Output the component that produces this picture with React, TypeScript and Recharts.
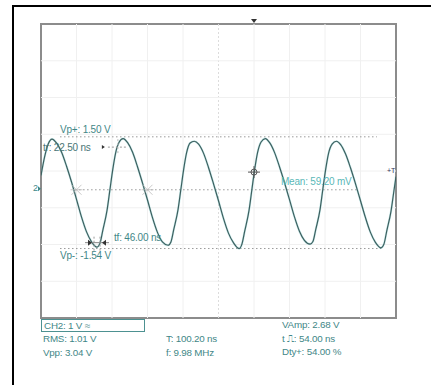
import React from "react";
import { LineChart, Line, XAxis, YAxis, ReferenceLine, ReferenceDot, ReferenceArea } from "recharts";

// CH2 trace: time in ns, level in volts
const TIME_NS = [
  0, 5, 10, 15.5, 22, 29, 36, 43, 50, 57, 64, 71, 79, 83, 87, 93, 97, 101, 105, 110,
  115.6, 122, 129, 136, 143, 150, 157, 164, 171, 179, 183, 187, 193, 197, 201, 205, 210,
  215.8, 222, 229, 236, 243, 250, 257, 264, 271, 279, 283, 287, 293, 297, 301, 305, 310,
  316, 322, 329, 336, 343, 350, 357, 364, 371, 379, 383, 387, 393, 397, 401, 405, 410,
  416, 422, 429, 436, 443, 450, 457, 464, 471, 479, 483, 487, 493, 497, 500,
];
const CH2_V = [
  0.45, 0.95, 1.3, 1.44, 1.33, 1.08, 0.7, 0.27, -0.2, -0.68, -1.08, -1.35, -1.5, -1.4, -1.05, -0.5, 0.05, 0.6, 1.05, 1.35,
  1.45, 1.34, 1.08, 0.68, 0.24, -0.22, -0.7, -1.1, -1.36, -1.45, -1.36, -1.02, -0.48, 0.07, 0.62, 1.06, 1.33,
  1.38, 1.3, 1.05, 0.66, 0.22, -0.24, -0.72, -1.12, -1.38, -1.54, -1.42, -1.06, -0.5, 0.06, 0.62, 1.07, 1.36,
  1.45, 1.34, 1.07, 0.68, 0.25, -0.21, -0.68, -1.07, -1.32, -1.42, -1.35, -1.02, -0.48, 0.08, 0.62, 1.05, 1.3,
  1.38, 1.29, 1.03, 0.65, 0.22, -0.24, -0.7, -1.1, -1.37, -1.52, -1.42, -1.06, -0.52, 0.02, 0.42,
];

const GRID_T = [50, 100, 150, 200, 300, 350, 400, 450];
const GRID_V = [3.57, 2.57, 1.57, 0.57, -0.43, -1.43, -2.43];
const T_DOMAIN = [0, 500];
const V_DOMAIN = [-3.43, 4.57];

const VP_PLUS = 1.5;
const VP_MINUS = -1.54;
const MEAN_V = 0.0592;

const COL1 = ["RMS: 1.01 V", "Vpp: 3.04 V"];
const COL2 = ["T: 100.20 ns", "f: 9.98 MHz"];
const COL3 = ["VAmp: 2.68 V", "t \u238D: 54.00 ns", "Dty+: 54.00 %"];

const TEAL = "#3f8787";
const FONT = "'Liberation Sans', Arial, sans-serif";

const data = TIME_NS.map((t, i) => ({ t, v: CH2_V[i] }));

function note(text: string, color: string) {
  return (p: any) => (
    <text x={p.cx} y={p.cy} dy="0.35em" fill={color} fontSize={10} fontFamily={FONT} letterSpacing={-0.2}>
      {text}
    </text>
  );
}

function Trigger(p: any) {
  const { cx, cy } = p;
  return <path d={`M${cx - 3},${cy - 5} L${cx + 3},${cy - 5} L${cx},${cy - 1} Z`} fill="#333" />;
}

function GroundMark(p: any) {
  const { cx, cy } = p;
  return (
    <g>
      <text x={cx - 8} y={cy} dy="0.35em" fill={TEAL} fontSize={9} fontFamily={FONT}>2</text>
      <path d={`M${cx - 3},${cy - 2} L${cx},${cy + 0.5} L${cx - 3},${cy + 3} Z`} fill={TEAL} />
    </g>
  );
}

function TrigLevel(p: any) {
  const { cx, cy } = p;
  return (
    <g>
      <text x={cx - 9} y={cy} dy="0.35em" fill="#335" fontSize={7} fontFamily={FONT}>+T</text>
    </g>
  );
}

function Cross(p: any) {
  const { cx, cy } = p;
  return (
    <g stroke="#555" strokeWidth={1} fill="none">
      <circle cx={cx} cy={cy} r={3} />
      <line x1={cx - 6} y1={cy} x2={cx + 6} y2={cy} />
      <line x1={cx} y1={cy - 6} x2={cx} y2={cy + 6} />
    </g>
  );
}

function Burst(p: any) {
  const { cx, cy } = p;
  return (
    <g stroke="#bbb" strokeWidth={0.8}>
      <line x1={cx - 5} y1={cy - 5} x2={cx + 5} y2={cy + 5} />
      <line x1={cx - 5} y1={cy + 5} x2={cx + 5} y2={cy - 5} />
      <line x1={cx - 6} y1={cy} x2={cx + 6} y2={cy} />
    </g>
  );
}

function RiseMark(p: any) {
  const { cx, cy } = p;
  return (
    <g>
      <path d={`M${cx - 3},${cy - 2} L${cx},${cy} L${cx - 3},${cy + 2} Z`} fill="#333" />
      <line x1={cx + 3} y1={cy} x2={cx + 21} y2={cy} stroke="#999" strokeDasharray="2 2" />
      <line x1={cx + 13} y1={cy - 8} x2={cx + 13} y2={cy + 7} stroke="#bbb" strokeDasharray="2 2" />
    </g>
  );
}

function FallMark(p: any) {
  const { cx, cy } = p;
  return (
    <g>
      <line x1={cx - 12} y1={cy} x2={cx + 12} y2={cy} stroke="#888" />
      <path d={`M${cx - 9},${cy - 3} L${cx - 5},${cy} L${cx - 9},${cy + 3} Z`} fill="#333" />
      <path d={`M${cx + 9},${cy - 3} L${cx + 5},${cy} L${cx + 9},${cy + 3} Z`} fill="#333" />
      <line x1={cx - 3} y1={cy - 6} x2={cx - 3} y2={cy + 8} stroke="#999" strokeDasharray="2 2" />
      <line x1={cx + 3} y1={cy - 6} x2={cx + 3} y2={cy + 8} stroke="#999" strokeDasharray="2 2" />
    </g>
  );
}

const txt: React.CSSProperties = {
  position: "absolute",
  fontFamily: FONT,
  fontSize: 9.8,
  lineHeight: "10px",
  color: TEAL,
  letterSpacing: -0.2,
  whiteSpace: "nowrap",
};

export default function App() {
  return (
    <div style={{ position: "fixed", left: 0, top: 0, width: 431, height: 385, background: "#fff", overflow: "hidden" }}>
      <div style={{ position: "absolute", left: 12, top: 5, width: 430, height: 400, borderLeft: "2px solid #000", borderTop: "2px solid #000" }} />
      <div style={{ position: "absolute", left: 0, top: 0 }}>
        <LineChart width={431} height={385} data={data} margin={{ top: 24, right: 35, bottom: 67, left: 41 }}>
          <XAxis dataKey="t" type="number" domain={T_DOMAIN} hide allowDataOverflow />
          <YAxis type="number" domain={V_DOMAIN} hide allowDataOverflow />
          {GRID_T.map((t) => (
            <ReferenceLine key={"gt" + t} x={t} stroke="#f0f0f0" strokeWidth={1} />
          ))}
          <ReferenceLine x={250} stroke="#dcdcdc" strokeDasharray="2 2" />
          {GRID_V.map((v) => (
            <ReferenceLine key={"gv" + v} y={v} stroke="#f0f0f0" strokeWidth={1} />
          ))}
          <ReferenceArea x1={T_DOMAIN[0]} x2={T_DOMAIN[1]} y1={V_DOMAIN[0]} y2={V_DOMAIN[1]} fill="none" stroke="#8c8c8c" strokeWidth={2} />
          <ReferenceLine segment={[{ x: 26.8, y: VP_PLUS }, { x: 473, y: VP_PLUS }]} stroke="#999" strokeDasharray="1.5 2.5" />
          <ReferenceLine segment={[{ x: 26.8, y: VP_MINUS }, { x: 479, y: VP_MINUS }]} stroke="#999" strokeDasharray="1.5 2.5" />
          <ReferenceLine segment={[{ x: 48, y: MEAN_V }, { x: 446, y: MEAN_V }]} stroke="#999" strokeDasharray="1.5 2.5" />
          <ReferenceDot x={50} y={MEAN_V} r={0} shape={Burst} />
          <ReferenceDot x={150} y={MEAN_V} r={0} shape={Burst} />
          <ReferenceDot x={90} y={1.22} r={0} shape={RiseMark} />
          <ReferenceDot x={78.9} y={-1.38} r={0} shape={FallMark} />
          <Line dataKey="v" type="monotone" stroke="#6ccaca" strokeWidth={2.2} strokeOpacity={0.35} dot={false} isAnimationActive={false} />
          <Line dataKey="v" type="monotone" stroke="#3d5f5f" strokeWidth={1.2} dot={false} isAnimationActive={false} />
          <ReferenceDot x={26.8} y={1.71} r={0} shape={note("Vp+: 1.50 V", TEAL)} />
          <ReferenceDot x={2.8} y={1.22} r={0} shape={note("tr: 22.50 ns", "#4a7676")} />
          <ReferenceDot x={102.8} y={-1.23} r={0} shape={note("tf: 46.00 ns", TEAL)} />
          <ReferenceDot x={26.8} y={-1.74} r={0} shape={note("Vp-: -1.54 V", TEAL)} />
          <ReferenceDot x={338} y={0.28} r={0} shape={note("Mean: 59.20 mV", "#5ab8b8")} />
          <ReferenceDot x={300} y={0.54} r={0} shape={Cross} />
          <ReferenceDot x={300} y={V_DOMAIN[1]} r={0} shape={Trigger} ifOverflow="visible" />
          <ReferenceDot x={0} y={0.1} r={0} shape={GroundMark} ifOverflow="visible" />
          <ReferenceDot x={500} y={0.57} r={0} shape={TrigLevel} ifOverflow="visible" />
        </LineChart>
      </div>
      <div style={{ position: "absolute", left: 41, top: 319, width: 104, height: 13, border: "1px solid #4d9191", boxSizing: "border-box" }} />
      <div style={{ ...txt, left: 44, top: 321 }}>CH2: 1 V ≈</div>
      {COL1.map((s, i) => (
        <div key={s} style={{ ...txt, left: 43, top: 334 + i * 13.5 }}>{s}</div>
      ))}
      {COL2.map((s, i) => (
        <div key={s} style={{ ...txt, left: 166, top: 334 + i * 13.5 }}>{s}</div>
      ))}
      {COL3.map((s, i) => (
        <div key={s} style={{ ...txt, left: 282, top: 320 + i * 13.5 }}>{s}</div>
      ))}
    </div>
  );
}
